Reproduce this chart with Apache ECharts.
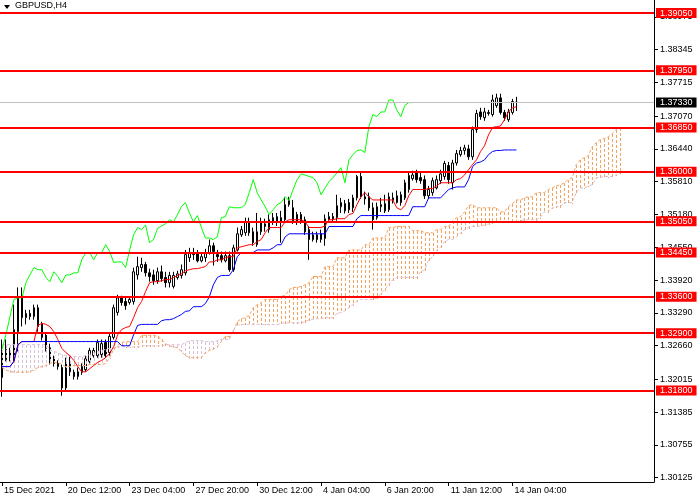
<!DOCTYPE html>
<html><head><meta charset="utf-8">
<script src="https://cdn.jsdelivr.net/npm/echarts@6/dist/echarts.min.js"></script>
<style>html,body{margin:0;padding:0;background:#fff}#c{width:700px;height:500px}</style>
</head><body><div id="c"></div>
<script>
// ---- data ----
const xTickLabels = {0:'15 Dec 2021',16:'20 Dec 12:00',32:'23 Dec 04:00',48:'27 Dec 20:00',64:'30 Dec 12:00',80:'4 Jan 04:00',96:'6 Jan 20:00',112:'11 Jan 12:00',128:'14 Jan 04:00'};
const yTickValues = [1.30125,1.30755,1.31385,1.32015,1.32660,1.33290,1.33920,1.34550,1.35180,1.35810,1.36440,1.37070,1.37715,1.38345,1.38975];
const levels = [1.39050,1.37950,1.36850,1.36000,1.35050,1.34450,1.33600,1.32900,1.31800];
const currentPrice = 1.37330;
const barSlots = 164;

const opens = [
1.3205,1.3239,1.3255,1.3243,1.3293,1.3358,1.3320,1.3328,1.3322,1.3339,
1.3307,1.3286,1.3262,1.3241,1.3232,1.3224,1.3185,1.3236,1.3215,1.3207,
1.3215,1.3220,1.3236,1.3247,1.3247,1.3249,1.3272,1.3253,1.3282,1.3330,
1.3358,1.3351,1.3349,1.3351,1.3402,1.3416,1.3422,1.3406,1.3402,1.3391,
1.3408,1.3397,1.3387,1.3380,1.3397,1.3401,1.3406,1.3435,1.3445,1.3443,
1.3429,1.3435,1.3445,1.3458,1.3441,1.3439,1.3429,1.3439,1.3412,1.3450,
1.3479,1.3483,1.3504,1.3485,1.3460,1.3485,1.3500,1.3489,1.3504,1.3504,
1.3512,1.3508,1.3537,1.3531,1.3518,1.3518,1.3508,1.3489,1.3470,1.3479,
1.3470,1.3472,1.3508,1.3514,1.3512,1.3533,1.3525,1.3541,1.3531,1.3550,
1.3591,1.3552,1.3552,1.3531,1.3512,1.3533,1.3525,1.3527,1.3545,1.3541,
1.3556,1.3550,1.3566,1.3587,1.3598,1.3589,1.3585,1.3554,1.3560,1.3569,
1.3583,1.3591,1.3612,1.3579,1.3617,1.3633,1.3641,1.3644,1.3629,1.3681,
1.3715,1.3704,1.3712,1.3710,1.3727,1.3742,1.3714,1.3700,1.3714,1.3734];
const closes = [
1.3255,1.3259,1.3245,1.3297,1.3360,1.3320,1.3328,1.3322,1.3339,1.3303,
1.3282,1.3261,1.3238,1.3232,1.3226,1.3185,1.3236,1.3216,1.3207,1.3216,
1.3226,1.3241,1.3257,1.3257,1.3272,1.3270,1.3247,1.3284,1.3339,1.3358,
1.3349,1.3343,1.3355,1.3408,1.3418,1.3422,1.3406,1.3399,1.3391,1.3408,
1.3395,1.3387,1.3401,1.3401,1.3404,1.3412,1.3441,1.3445,1.3441,1.3429,
1.3437,1.3445,1.3458,1.3447,1.3437,1.3431,1.3439,1.3412,1.3454,1.3481,
1.3489,1.3504,1.3483,1.3464,1.3485,1.3502,1.3495,1.3508,1.3512,1.3514,
1.3504,1.3537,1.3545,1.3506,1.3504,1.3506,1.3485,1.3470,1.3479,1.3470,
1.3481,1.3510,1.3514,1.3510,1.3535,1.3541,1.3539,1.3527,1.3550,1.3591,
1.3552,1.3548,1.3531,1.3508,1.3533,1.3537,1.3539,1.3552,1.3550,1.3554,
1.3541,1.3579,1.3593,1.3594,1.3585,1.3583,1.3554,1.3566,1.3583,1.3585,
1.3596,1.3616,1.3585,1.3617,1.3635,1.3641,1.3646,1.3629,1.3681,1.3712,
1.3706,1.3715,1.3714,1.3738,1.3742,1.3714,1.3704,1.3715,1.3735,1.3733];
const lows = [
1.3168,1.3236,1.3236,1.3236,1.3255,1.3303,1.3307,1.3316,1.3316,1.3293,
1.3276,1.3255,1.3230,1.3226,1.3220,1.3170,1.3178,1.3208,1.3201,1.3201,
1.3210,1.3216,1.3232,1.3243,1.3243,1.3243,1.3243,1.3247,1.3278,1.3324,
1.3343,1.3335,1.3345,1.3345,1.3393,1.3408,1.3399,1.3389,1.3383,1.3385,
1.3389,1.3378,1.3378,1.3376,1.3393,1.3395,1.3401,1.3427,1.3431,1.3426,
1.3426,1.3427,1.3441,1.3420,1.3427,1.3426,1.3426,1.3408,1.3408,1.3447,
1.3475,1.3477,1.3477,1.3458,1.3456,1.3479,1.3485,1.3483,1.3498,1.3496,
1.3464,1.3502,1.3533,1.3500,1.3498,1.3500,1.3479,1.3431,1.3466,1.3464,
1.3464,1.3458,1.3502,1.3504,1.3506,1.3521,1.3520,1.3521,1.3523,1.3545,
1.3548,1.3537,1.3525,1.3489,1.3508,1.3523,1.3521,1.3523,1.3539,1.3539,
1.3535,1.3546,1.3560,1.3583,1.3579,1.3577,1.3548,1.3548,1.3554,1.3566,
1.3577,1.3585,1.3577,1.3566,1.3612,1.3629,1.3633,1.3623,1.3623,1.3675,
1.3700,1.3698,1.3708,1.3706,1.3723,1.3710,1.3698,1.3696,1.3710,1.3717];
const highs = [
1.3278,1.3278,1.3262,1.3345,1.3378,1.3378,1.3335,1.3335,1.3345,1.3345,
1.3312,1.3291,1.3270,1.3247,1.3238,1.3230,1.3243,1.3245,1.3220,1.3224,
1.3232,1.3247,1.3262,1.3262,1.3278,1.3278,1.3278,1.3291,1.3345,1.3364,
1.3362,1.3358,1.3360,1.3416,1.3437,1.3435,1.3427,1.3414,1.3412,1.3416,
1.3420,1.3408,1.3408,1.3408,1.3410,1.3422,1.3450,1.3454,1.3454,1.3450,
1.3445,1.3452,1.3470,1.3464,1.3450,1.3447,1.3447,1.3447,1.3460,1.3493,
1.3496,1.3512,1.3512,1.3493,1.3521,1.3512,1.3510,1.3518,1.3521,1.3521,
1.3525,1.3552,1.3552,1.3546,1.3523,1.3523,1.3514,1.3496,1.3485,1.3485,
1.3489,1.3518,1.3523,1.3521,1.3556,1.3550,1.3546,1.3548,1.3556,1.3594,
1.3600,1.3562,1.3560,1.3541,1.3541,1.3550,1.3556,1.3560,1.3560,1.3564,
1.3562,1.3585,1.3598,1.3602,1.3604,1.3600,1.3593,1.3573,1.3589,1.3593,
1.3604,1.3621,1.3619,1.3623,1.3642,1.3648,1.3652,1.3652,1.3687,1.3719,
1.3723,1.3723,1.3719,1.3748,1.3750,1.3750,1.3719,1.3721,1.3740,1.3744];

const tenkan = [
1.3226,1.3226,1.3226,1.3236,1.3268,1.3274,1.3274,1.3274,1.3274,1.3305,
1.3309,1.3307,1.3303,1.3293,1.3278,1.3261,1.3253,1.3247,1.3238,1.3226,
1.3216,1.3216,1.3222,1.3228,1.3234,1.3238,1.3243,1.3251,1.3264,1.3287,
1.3297,1.3301,1.3303,1.3320,1.3339,1.3351,1.3370,1.3387,1.3389,1.3389,
1.3391,1.3393,1.3393,1.3397,1.3401,1.3404,1.3410,1.3412,1.3414,1.3414,
1.3416,1.3418,1.3427,1.3427,1.3431,1.3431,1.3435,1.3437,1.3437,1.3454,
1.3456,1.3458,1.3460,1.3460,1.3466,1.3470,1.3483,1.3493,1.3493,1.3493,
1.3493,1.3504,1.3508,1.3508,1.3508,1.3508,1.3504,1.3493,1.3493,1.3493,
1.3493,1.3496,1.3508,1.3508,1.3510,1.3510,1.3510,1.3518,1.3520,1.3537,
1.3552,1.3560,1.3552,1.3546,1.3546,1.3546,1.3546,1.3546,1.3546,1.3531,
1.3527,1.3535,1.3554,1.3566,1.3566,1.3566,1.3566,1.3568,1.3568,1.3573,
1.3579,1.3579,1.3579,1.3579,1.3585,1.3587,1.3594,1.3604,1.3614,1.3623,
1.3639,1.3650,1.3671,1.3685,1.3687,1.3688,1.3700,1.3715,1.3723,1.3725];
const kijun = [
1.3226,1.3226,1.3226,1.3236,1.3268,1.3274,1.3274,1.3274,1.3274,1.3274,
1.3274,1.3274,1.3274,1.3274,1.3274,1.3274,1.3274,1.3274,1.3274,1.3274,
1.3274,1.3274,1.3274,1.3274,1.3274,1.3274,1.3274,1.3274,1.3274,1.3274,
1.3266,1.3266,1.3266,1.3287,1.3305,1.3307,1.3307,1.3307,1.3307,1.3307,
1.3314,1.3316,1.3316,1.3318,1.3322,1.3326,1.3332,1.3333,1.3341,1.3341,
1.3341,1.3347,1.3360,1.3383,1.3397,1.3401,1.3401,1.3401,1.3412,1.3437,
1.3445,1.3445,1.3445,1.3445,1.3450,1.3450,1.3450,1.3450,1.3454,1.3460,
1.3460,1.3475,1.3481,1.3481,1.3481,1.3481,1.3481,1.3481,1.3481,1.3481,
1.3481,1.3481,1.3495,1.3495,1.3495,1.3495,1.3495,1.3495,1.3495,1.3510,
1.3516,1.3516,1.3516,1.3516,1.3516,1.3516,1.3516,1.3516,1.3516,1.3516,
1.3516,1.3516,1.3516,1.3533,1.3533,1.3533,1.3533,1.3550,1.3550,1.3550,
1.3550,1.3558,1.3566,1.3569,1.3571,1.3571,1.3571,1.3585,1.3610,1.3617,
1.3619,1.3623,1.3633,1.3639,1.3641,1.3641,1.3642,1.3642,1.3642,1.3642];
const chikou = [
1.3259,1.3287,1.3322,1.3355,1.3358,1.3358,1.3387,1.3402,1.3416,1.3412,
1.3412,1.3397,1.3389,1.3408,1.3399,1.3387,1.3402,1.3402,1.3406,1.3406,
1.3431,1.3445,1.3445,1.3431,1.3445,1.3445,1.3460,1.3447,1.3426,1.3427,
1.3427,1.3416,1.3450,1.3479,1.3493,1.3489,1.3498,1.3464,1.3470,1.3491,
1.3496,1.3500,1.3508,1.3504,1.3518,1.3533,1.3541,1.3521,1.3504,1.3516,
1.3493,1.3473,1.3473,1.3470,1.3475,1.3512,1.3514,1.3533,1.3531,1.3531,
1.3531,1.3537,1.3560,1.3585,1.3560,1.3546,1.3533,1.3518,1.3527,1.3537,
1.3541,1.3552,1.3545,1.3566,1.3585,1.3596,1.3594,1.3591,1.3589,1.3579,
1.3556,1.3569,1.3581,1.3589,1.3598,1.3608,1.3579,1.3623,1.3633,1.3641,
1.3642,1.3637,1.3687,1.3710,1.3706,1.3715,1.3715,1.3738,1.3738,1.3719,
1.3706,1.3727,1.3733,1.3733];
const spanA = [
1.3224,1.3220,1.3216,1.3216,1.3215,1.3215,1.3215,1.3216,1.3220,1.3224,
1.3226,1.3228,1.3232,1.3234,1.3234,1.3230,1.3226,1.3226,1.3228,1.3228,
1.3228,1.3228,1.3230,1.3230,1.3230,1.3230,1.3232,1.3243,1.3259,1.3266,
1.3272,1.3274,1.3274,1.3274,1.3274,1.3286,1.3286,1.3286,1.3286,1.3284,
1.3278,1.3270,1.3266,1.3264,1.3262,1.3255,1.3247,1.3243,1.3243,1.3243,
1.3243,1.3253,1.3257,1.3259,1.3264,1.3274,1.3284,1.3284,1.3293,1.3312,
1.3318,1.3320,1.3324,1.3339,1.3345,1.3349,1.3355,1.3355,1.3355,1.3355,
1.3362,1.3362,1.3374,1.3378,1.3378,1.3380,1.3383,1.3387,1.3399,1.3399,
1.3399,1.3418,1.3418,1.3418,1.3435,1.3435,1.3435,1.3450,1.3450,1.3450,
1.3450,1.3460,1.3460,1.3473,1.3473,1.3473,1.3473,1.3493,1.3493,1.3495,
1.3495,1.3495,1.3495,1.3487,1.3487,1.3487,1.3483,1.3483,1.3483,1.3489,
1.3489,1.3495,1.3495,1.3506,1.3512,1.3514,1.3523,1.3535,1.3537,1.3531,
1.3531,1.3531,1.3531,1.3531,1.3531,1.3523,1.3523,1.3533,1.3539,1.3546,
1.3546,1.3550,1.3552,1.3552,1.3560,1.3560,1.3560,1.3566,1.3569,1.3573,
1.3575,1.3579,1.3585,1.3589,1.3614,1.3623,1.3627,1.3631,1.3648,1.3656,
1.3662,1.3664,1.3667,1.3673,1.3681,1.3685];
const spanB = [
1.3268,1.3268,1.3268,1.3268,1.3268,1.3268,1.3268,1.3268,1.3268,1.3268,
1.3268,1.3268,1.3259,1.3255,1.3253,1.3249,1.3247,1.3247,1.3245,1.3245,
1.3245,1.3247,1.3249,1.3253,1.3255,1.3257,1.3259,1.3261,1.3262,1.3264,
1.3264,1.3264,1.3264,1.3264,1.3264,1.3266,1.3266,1.3266,1.3266,1.3266,
1.3266,1.3268,1.3268,1.3268,1.3268,1.3268,1.3272,1.3276,1.3276,1.3276,
1.3276,1.3274,1.3274,1.3274,1.3276,1.3278,1.3278,1.3278,1.3297,1.3305,
1.3307,1.3307,1.3307,1.3307,1.3307,1.3307,1.3307,1.3307,1.3307,1.3307,
1.3309,1.3310,1.3310,1.3310,1.3310,1.3310,1.3312,1.3316,1.3316,1.3318,
1.3318,1.3320,1.3320,1.3320,1.3328,1.3330,1.3333,1.3339,1.3345,1.3351,
1.3355,1.3355,1.3355,1.3355,1.3358,1.3366,1.3374,1.3383,1.3393,1.3397,
1.3397,1.3397,1.3397,1.3397,1.3397,1.3408,1.3412,1.3431,1.3437,1.3450,
1.3456,1.3466,1.3470,1.3470,1.3475,1.3483,1.3489,1.3493,1.3495,1.3495,
1.3496,1.3498,1.3500,1.3502,1.3504,1.3504,1.3504,1.3504,1.3504,1.3504,
1.3506,1.3508,1.3508,1.3508,1.3508,1.3512,1.3523,1.3523,1.3531,1.3533,
1.3533,1.3541,1.3541,1.3541,1.3560,1.3569,1.3569,1.3573,1.3575,1.3589,
1.3589,1.3591,1.3591,1.3591,1.3594,1.3598];

// ---- build ----
const categories = [];
for (let i = 0; i < barSlots; i++) categories.push(String(i));
const candleData = opens.map((o, i) => [o, closes[i], lows[i], highs[i]]);
const bullCloud = [], bearCloud = [];
spanA.forEach((a, i) => {
  const item = [i, Math.max(a, spanB[i]), Math.min(a, spanB[i])];
  if (a >= spanB[i]) bullCloud.push(item); else bearCloud.push(item);
});
const FONT = 'Liberation Sans, Arial, sans-serif';
const showIdx = (i) => Object.prototype.hasOwnProperty.call(xTickLabels, i);
const BULL = '#F4A460', BEAR = '#D8BFD8';

const chart = echarts.init(document.getElementById('c'), null, {renderer: 'canvas'});
const levelLabel = {
  show: true, position: 'end', distance: 2,
  formatter: (p) => Number(p.value).toFixed(5),
  color: '#ffffff', backgroundColor: '#ff0000',
  fontFamily: FONT, fontSize: 9, lineHeight: 10, padding: [0, 4, 0, 4]
};
const markData = levels.map(v => ({yAxis: v}));
markData.push({
  yAxis: currentPrice,
  lineStyle: {color: '#c0c0c0', width: 1, type: 'solid'},
  label: Object.assign({}, levelLabel, {backgroundColor: '#000000'})
});

// hatch column: short solid dashes (3px on / 2px off) from upper to lower span
function makeHatch(color) {
  return function (params, api) {
    const top = api.coord([api.value(0), api.value(1)]);
    const bot = api.coord([api.value(0), api.value(2)]);
    const x = Math.round(top[0]);
    const y0 = Math.round(top[1]), y1 = Math.round(bot[1]);
    const children = [];
    for (let y = y0; y <= y1; y += 5) {
      children.push({type: 'rect', shape: {x: x, y: y, width: 1, height: Math.min(3, y1 - y + 1)},
        style: {fill: color, stroke: null}});
    }
    return {type: 'group', children: children};
  };
}

chart.setOption({
  animation: false,
  backgroundColor: '#ffffff',
  color: [BULL, BEAR],
  grid: {left: -2, right: 46, top: 0, bottom: 18, containLabel: false},
  xAxis: {
    type: 'category', data: categories, boundaryGap: true,
    axisLine: {show: true, lineStyle: {color: '#000', width: 1}},
    axisTick: {show: true, length: 4, alignWithLabel: true, interval: (i) => showIdx(i), lineStyle: {color: '#000'}},
    axisLabel: {
      show: true, interval: (i) => showIdx(i), formatter: (v, i) => xTickLabels[i] || '',
      align: 'left', color: '#000', fontFamily: FONT, fontSize: 9, margin: 4, padding: [0, 0, 0, 2]
    },
    splitLine: {show: false}, splitArea: {show: false}
  },
  yAxis: {
    type: 'value', position: 'right', min: 1.30043, max: 1.39300, scale: true,
    axisLine: {show: true, lineStyle: {color: '#000', width: 1}},
    axisTick: {show: true, length: 4, inside: false, customValues: yTickValues, lineStyle: {color: '#000'}},
    axisLabel: {customValues: yTickValues, formatter: (v) => Number(v).toFixed(5), color: '#000', fontFamily: FONT, fontSize: 9, margin: 6},
    splitLine: {show: false}, splitArea: {show: false}
  },
  graphic: [
    {type: 'polygon', shape: {points: [[4, 5], [10, 5], [7, 9]]}, style: {fill: '#000'}, z: 100},
    {type: 'text', x: 15, y: 1, style: {text: 'GBPUSD,H4', fill: '#000', font: '9px ' + FONT, textVerticalAlign: 'top'}, z: 100}
  ],
  series: [
    {type: 'candlestick', name: 'GBPUSD', data: candleData, z: 3, barWidth: 2,
      itemStyle: {color: '#ffffff', color0: '#000000', borderColor: '#000000', borderColor0: '#000000', borderWidth: 1}},
    {type: 'custom', name: 'cloudBull', data: bullCloud, z: 4, clip: true, silent: true,
      itemStyle: {color: BULL}, encode: {x: 0, y: [1, 2]}, renderItem: makeHatch(BULL)},
    {type: 'custom', name: 'cloudBear', data: bearCloud, z: 4, clip: true, silent: true,
      itemStyle: {color: BEAR}, encode: {x: 0, y: [1, 2]}, renderItem: makeHatch(BEAR)},
    {type: 'line', name: 'spanA', data: spanA, z: 4, showSymbol: false, symbol: 'none', silent: true,
      itemStyle: {color: BULL}, lineStyle: {color: BULL, width: 1, type: [3, 2]}},
    {type: 'line', name: 'spanB', data: spanB, z: 4, showSymbol: false, symbol: 'none', silent: true,
      itemStyle: {color: BEAR}, lineStyle: {color: BEAR, width: 1, type: [3, 2]}},
    {type: 'line', name: 'tenkan', data: tenkan, z: 5, showSymbol: false, symbol: 'none',
      itemStyle: {color: '#ff0000'}, lineStyle: {color: '#ff0000', width: 1}},
    {type: 'line', name: 'kijun', data: kijun, z: 5, showSymbol: false, symbol: 'none',
      itemStyle: {color: '#0000ff'}, lineStyle: {color: '#0000ff', width: 1}},
    {type: 'line', name: 'chikou', data: chikou, z: 5, showSymbol: false, symbol: 'none',
      itemStyle: {color: '#00ff00'}, lineStyle: {color: '#00ff00', width: 1},
      markLine: {silent: true, symbol: ['none', 'none'], animation: false, precision: 5, z: 7,
        lineStyle: {color: '#ff0000', width: 2, type: 'solid'},
        label: levelLabel, data: markData}}
  ]
});
</script></body></html>
